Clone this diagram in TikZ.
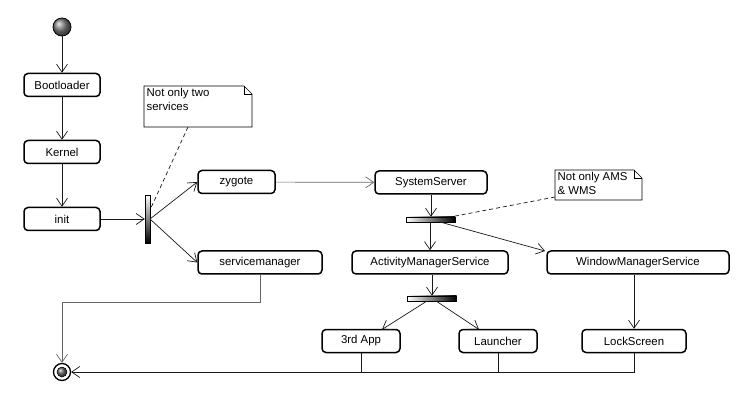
\documentclass[tikz,border=0pt]{standalone}
\usepackage{fontspec}
\setmainfont{Liberation Sans}
\usetikzlibrary{arrows.meta,shadings}
\begin{document}
\begin{tikzpicture}[x=1pt,y=-1pt,
  act/.style={draw=black,line width=1.5pt,rounded corners=4pt,fill=white,minimum height=23pt,inner sep=0pt,font=\fontsize{11.4}{12}\selectfont},
  flow/.style={draw=black!90,line width=0.7pt,-{Straight Barb[length=8pt,width=11pt,line width=0.7pt]}},
  gflow/.style={flow,draw=black!60},
  plain/.style={draw=black!90,line width=0.7pt},
  notetext/.style={anchor=north west,align=left,inner sep=0pt,font=\fontsize{11.4}{14}\selectfont},
  noteline/.style={draw=black,line width=0.6pt},
  notelink/.style={draw=black!90,line width=0.7pt,dash pattern=on 4pt off 3pt},
  vbar/.style={draw=black,line width=0.5pt,top color=white,bottom color=black,minimum width=5pt,minimum height=48pt,inner sep=0pt},
  hbar/.style={draw=black,line width=0.5pt,left color=white,right color=black,minimum width=49pt,minimum height=5pt,inner sep=0pt}]
\useasboundingbox (0,0) rectangle (740,409);

% start and end
\node[circle,draw=black,line width=0.8pt,ball color=gray,minimum size=18pt,inner sep=0pt] (start) at (62,27) {};
\node[circle,draw=black,line width=1.3pt,fill=white,minimum size=17pt,inner sep=0pt] (end) at (62,372) {};
\node[circle,draw=black,line width=0.5pt,ball color=gray!80!black,minimum size=10pt,inner sep=0pt] (endin) at (62,372) {};

% activities
\node[act,minimum width=76pt] (boot) at (62,85) {Bootloader};
\node[act,minimum width=76pt] (kernel) at (62,152) {Kernel};
\node[act,minimum width=76pt] (init) at (62,219) {init};
\node[act,minimum width=77pt] (zygote) at (236.5,182) {zygote};
\node[act,minimum width=124pt] (sm) at (260,262.5) {servicemanager};
\node[act,minimum width=112pt] (ss) at (431,182.5) {SystemServer};
\node[act,minimum width=156pt] (ams) at (430,262.5) {ActivityManagerService};
\node[act,minimum width=182pt] (wms) at (638,262.5) {WindowManagerService};
\node[act,minimum width=78pt] (app) at (361,341) {3rd App};
\node[act,minimum width=78pt] (launcher) at (498,341) {Launcher};
\node[act,minimum width=104pt] (lock) at (634,341) {LockScreen};

% fork bars
\node[vbar] (bar1) at (147.5,219) {};
\node[hbar] (bar2) at (430.5,219.5) {};
\node[hbar] (bar3) at (432,298.5) {};

% notes
\draw[noteline,fill=white] (144,86) -- (244,86) -- (252,94) -- (252,127) -- (144,127) -- cycle;
\draw[noteline] (244,86) -- (244,94) -- (252,94);
\draw[noteline,fill=white] (555,170) -- (634,170) -- (642,178) -- (642,200) -- (555,200) -- cycle;
\draw[noteline] (634,170) -- (634,178) -- (642,178);
\node[notetext] (note1) at (146.5,88.5) {Not only two\\services};
\node[notetext] (note2) at (557.5,172.5) {Not only AMS\\\& WMS};

% note links
\coordinate (n1a) at (188,127);
\coordinate (n1b) at (150,210);
\coordinate (n2a) at (555,197);
\coordinate (n2b) at (445,218);
\draw[notelink] (n1a) -- (n1b);
\draw[notelink] (n2a) -- (n2b);

% flows
\draw[flow] (start) -- (boot);
\draw[flow] (boot) -- (kernel);
\draw[flow] (kernel) -- (init);
\draw[flow] (init) -- (bar1.west);
\coordinate (b1o) at (150,219);
\draw[flow] (b1o) -- (zygote.west);
\draw[flow] (b1o) -- (sm.west);
\draw[gflow] (zygote) -- (ss);
\draw[flow] (ss.south) -- (ss.south |- bar2.north);
\draw[flow] (ams.north |- bar2.south) -- (ams.north);
\coordinate (b2o) at (440,222);
\coordinate (wmsin) at (545,251);
\draw[flow] (b2o) -- (wmsin);
\draw[flow] (ams.south -| bar3) -- (bar3.north);
\coordinate (b3l) at (427,301);
\coordinate (b3r) at (436,301);
\coordinate (appin) at (382,329.5);
\coordinate (lin) at (479,329.5);
\draw[flow] (b3l) -- (appin);
\draw[flow] (b3r) -- (lin);
\draw[flow] (lock.north |- wms.south) -- (lock.north);

% to end
\coordinate (smd) at (260,302);
\draw[gflow] (sm.south) -- (smd) -- (smd -| end) -- (end.north);
\coordinate (bot) at (634,372);
\draw[plain] (app.south) -- (app.south |- bot);
\draw[plain] (launcher.south) -- (launcher.south |- bot);
\draw[flow] (lock.south) -- (bot) -- (end.east);
\end{tikzpicture}
\end{document}
